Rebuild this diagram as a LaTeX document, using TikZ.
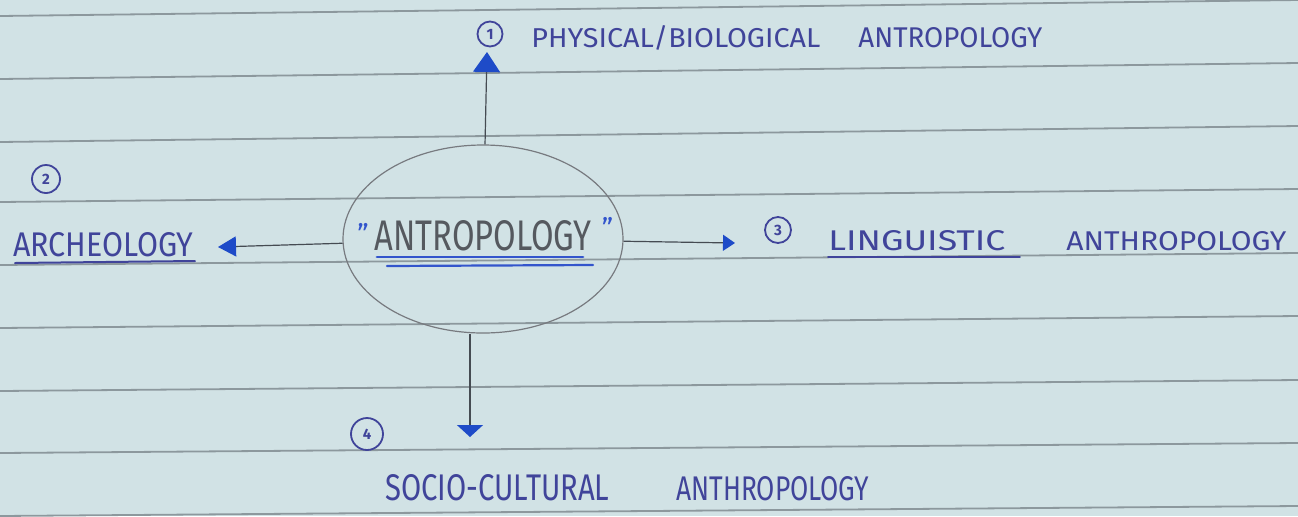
\documentclass[tikz,border=0pt]{standalone}
\usepackage{fontspec}
\setmainfont{Fira Sans}
\usetikzlibrary{arrows.meta,shapes.geometric}
\definecolor{paper}{HTML}{D1E2E5}
\definecolor{rule}{HTML}{8C989D}
\definecolor{ink}{HTML}{40449A}
\definecolor{pencil}{HTML}{55595F}
\definecolor{headblue}{HTML}{1E4BC8}
\definecolor{ulblue}{HTML}{3355CC}
\definecolor{stem}{HTML}{454B52}
\tikzset{
  paperline/.style={rule, line width=0.9pt},
  label/.style={inner sep=0pt, anchor=base west, text=ink},
  numcirc/.style={circle, draw=ink, line width=0.9pt, inner sep=0pt, text=ink, font=\fontsize{7.5}{7.5}\selectfont\bfseries},
  stemline/.style={stem, line width=0.6pt},
  ul/.style={line width=1.1pt, line cap=round},
}
\begin{document}
\begin{tikzpicture}[x=0.5pt,y=-0.5pt]
\fill[paper] (0,0) rectangle (1298,516);
\useasboundingbox (0,0) rectangle (1298,516);
% ruled lines of the notebook
\foreach \l/\r in {16/0,79/63,142/126,202/189,265/253,328/316,391/380,453/443,516/506}
  \draw[paperline] (0,\l) -- (1298,\r);
% central ellipse
\node[ellipse, draw=pencil!80, line width=0.6pt, minimum width=140pt, minimum height=94pt, inner sep=0pt] (c) at (483,239) {};
\node[inner sep=0pt, anchor=base west, text=pencil] (ct) at (357,250)
  {\raisebox{3pt}{\color{ulblue}\fontsize{14}{14}\selectfont\symbol{"22}}\hspace{3pt}\resizebox{108.5pt}{15pt}{ANTROPOLOGY}\hspace{5pt}\raisebox{6pt}{\color{ulblue}\fontsize{14}{14}\selectfont\symbol{"22}}};
\draw[ulblue, ul, line width=1.4pt] (377,257) -- (583,257);
\draw[ulblue, ul] (387,266) -- (593,265);
% labels
\node[numcirc, minimum size=12.5pt] (n1) at (490,34) {1};
\node[label] (t1) at (531,47)
  {\resizebox{144.5pt}{11pt}{PHYSICAL/BIOLOGICAL}\hspace{19pt}\resizebox{92pt}{10pt}{ANTROPOLOGY}};
\node[numcirc, minimum size=14pt] (n2) at (46,179) {2};
\node[label] (t2) at (13,256) {\resizebox{90pt}{12pt}{ARCHEOLOGY}};
\draw[ink, ul, line width=1pt] (15,263) -- (195,261);
\node[numcirc, minimum size=13pt] (n3) at (778,230) {3};
\node[label] (t3) at (828,250)
  {\resizebox{88.5pt}{10pt}{LINGUISTIC}\hspace{30.5pt}\resizebox{110pt}{9.5pt}{ANTHROPOLOGY}};
\draw[ink, ul, line width=0.9pt] (828,257) -- (1020,257);
\node[numcirc, minimum size=16pt] (n4) at (367,434) {4};
\node[label] (t4) at (385,500)
  {\resizebox{112pt}{13pt}{SOCIO-CULTURAL}\hspace{33.5pt}\resizebox{96.5pt}{12pt}{ANTHROPOLOGY}};
% arrow ends
\coordinate (tp) at (487,52);
\coordinate (lp) at (218,247);
\coordinate (rp) at (735,243);
\coordinate (bp) at (470,437);
\draw[stemline, -{Triangle[width=13.5pt,length=10pt,color=headblue]}] (c) -- (tp);
\draw[stemline, -{Triangle[width=10pt,length=9pt,color=headblue]}] (c) -- (lp);
\draw[stemline, -{Triangle[width=8pt,length=6pt,color=headblue]}] (c) -- (rp);
\draw[stemline, -{Triangle[width=13pt,length=6pt,color=headblue]}] (c.south -| bp) -- (bp);
\end{tikzpicture}
\end{document}
